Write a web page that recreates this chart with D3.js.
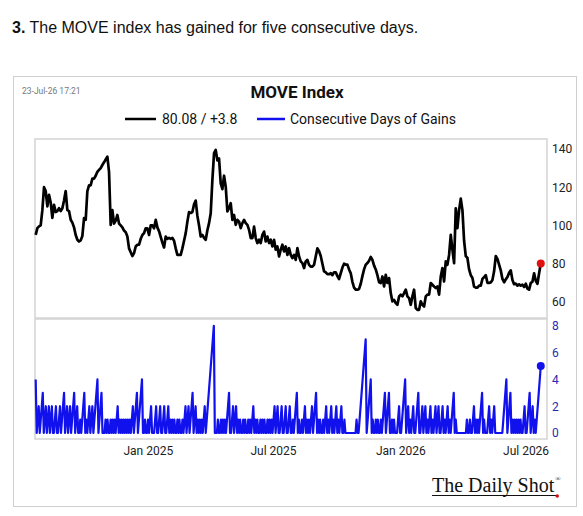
<!DOCTYPE html>
<html>
<head>
  <title>MOVE Index</title>
  <script src="https://d3js.org/d3.v7.min.js"></script>
  <style>
    body { margin: 0; background: #fff; }
    svg { display: block; }
  </style>
</head>
<body>
  <script>
    // MOVE index, evenly spaced from start to end date
    var moveValues = [
      95.1, 98.6, 99.5, 100, 108, 120, 118, 110, 116, 112,
      104, 110.8, 107, 107.5, 109, 107.5, 109, 113, 118, 108,
      107.5, 103, 101.5, 99, 95, 92.5, 91.6, 92.2, 94.5, 103.8,
      102.9, 118, 121, 121, 124.5, 124.5, 126, 128, 129, 130,
      131.6, 133, 134.5, 136, 128, 100.3, 108, 101, 102.5, 105.5,
      101, 100, 99, 97.3, 96.5, 94.2, 88, 86, 84, 85.5,
      89, 89.9, 89.9, 93, 95, 96, 98.5, 98.5, 95, 100,
      100, 98.5, 102.9, 99, 97, 94, 91, 88.5, 94.2, 93,
      93.5, 93, 93.5, 92, 88, 84.6, 84.6, 84.6, 88, 92,
      96, 102, 107, 106.5, 107, 111, 113, 105, 100, 94.2,
      95, 93.5, 92.5, 97.5,
      101.2, 106.4, 123.8, 137.8, 139.5, 134, 135, 122, 119, 126,
      120.3, 107.3, 109, 111.6, 102.9, 105.5, 100.3, 102.9, 102, 98.6,
      101.2, 102.9, 101.2, 100.3, 97.7, 93.4, 93.4, 99.4, 93.4, 90.8,
      92.5, 90.8, 95.1, 96.8, 91.6, 94.2, 90.8, 92.5, 89, 92.5,
      87.3, 89, 83.8, 87.3, 89.9, 86.4, 89, 84.6, 88.1, 84.6,
      82.9, 84.6, 82, 88.1, 83.8, 81.2, 80.3, 77.7, 81.2, 82,
      79.4, 78.5, 78.5, 79.4, 83.8, 88, 86.5, 84, 80, 76,
      75.5, 74.5, 74.5, 75, 74, 75.5, 75.5, 73.5, 72, 75,
      78, 80, 79.5, 79.5, 77, 75, 70.5, 67.5, 66.4, 66.4,
      66.8, 69.5, 73.5, 77, 79.5, 80.3, 81.5, 83.5, 82, 79,
      77, 74, 70.3,
      69.9, 73.3, 68.1, 74.2, 69.9, 72.5, 64.6, 60.3, 61.1, 59.4,
      58.5, 62.9, 63.8, 62.9, 64.6, 66.4, 62.9, 62, 58.5, 62.9,
      66.4, 56.8, 55.9, 55.9, 60.3, 58.5, 57.6, 62.9, 63.8, 63.8,
      69.9, 69, 68.1, 67.3, 68.1, 63.8, 73.3, 77.7, 70.7, 81.2,
      79.4, 84.6, 95.1, 87.3, 80.3, 109, 98.6, 108, 114, 108,
      92, 84, 83, 77, 74, 72.5, 68, 67.5, 67.5, 68.5,
      68.5, 72, 73, 74, 70, 70, 70.2, 71.5, 76, 84,
      82.5, 79.5, 76.5, 72, 70.3, 71.8, 73, 75.3, 76.5, 71.5,
      69.3, 69.6, 68.5, 69.2, 68.5, 69, 67.8, 69.5, 67, 66.4,
      70, 70.5, 75, 71, 69.5, 75, 80.08
    ];

    // consecutive days of gains
    var gainDays = [
      4,0, 1,2,0, 1,2,3,0, 1,2,0, 1,2,0, 1,2,0, 0,1,2,0, 0,1,2,0, 1,2,3,0,
      1,2,0, 1,2,0, 1,2,3,0, 1,2,0, 0,1,0, 1,2,3,0, 1,0, 1,2,0, 1,2,0,
      1,2,3,4,0, 1,2,3,0, 0,0,1,0,1,0,0,1,0,1,0,1,0, 1,2,0,
      1,0,1,0,1,0,1,0,1,0,1,0, 1,2,0, 1,2,3,0, 1,2,3,4,0, 0,1,0,0,
      1,0,1,2,0, 0,0,1,2,0, 0,1,2,0, 0,1,2,0, 0,1,2,0,
      1,0,1,0,1,0,0,1,0,1,0,0,1,0, 1,2,0, 1,2,0, 1,2,3,0, 1,2,0,
      1,0,1,0,1,0, 1,2,0,
      1,2,3,4,5,6,7,8,0, 0,0,1,0,0,1,0,1,0,1,0, 1,2,3,0, 0,1,2,0, 1,2,0,
      1,0,1,0,0,1,0,1,0,0,1,0,1,0, 1,2,0,
      1,0,1,0,0,1,0,1,0,1,0,0,1,0,1,0,1,0, 1,2,0, 1,2,0, 0,1,2,0,
      0,1,2,0, 0,1,2,0, 0,1,0,1,2,3,0, 1,0,0,1,0, 1,2,0, 1,0,1,0,1,2,0,
      1,2,3,0, 1,0,1,0,0,1,0, 1,2,0, 1,0,1,2,0, 1,0,1,2,0, 1,0,1,2,0,
      0,1,0, 0,0,0,0,0,0,0,0, 0,0,1,0,0, 1,2,3,4,5,6,7,0, 1,2,3,4,0,
      1,0,0,1,0,1,0,0,1,0, 1,2,3,0, 1,2,3,0, 0,1,0,1,0, 0,0,1,2,0,0,
      1,2,3,4,0, 1,2,0, 1,0,1,2,0, 0,1,2,3,0, 0,1,2,0, 1,2,0,
      1,0,1,2,0, 1,0,1,2,0, 1,2,0, 0,1,2,0, 1,0,1,2,0, 1,0,1,2,3,0,
      1,0,0,0,0,0,0,0,0,0, 0,1,0,0,1,0,0, 1,2,0, 1,0,1,0,1,2,3,0,
      1,0,0,0,1,2,0, 1,0,1,2,0, 0,0,0,0,0,0,0, 1,2,3,4,0, 1,2,3,0,
      1,0,1,0,1,0,1,0,1,0,0, 1,2,0, 0,1,2,3,0, 1,2,0,1, 0,1,2,3,4,5
    ];

    var startDate = new Date(2024, 6, 23);
    var endDate = new Date(2026, 6, 23);
    var tickDates = [new Date(2025, 0, 1), new Date(2025, 6, 1), new Date(2026, 0, 1), new Date(2026, 6, 1)];
    var tickLabels = ['Jan 2025', 'Jul 2025', 'Jan 2026', 'Jul 2026'];
    var moveTicks = [60, 80, 100, 120, 140];
    var gainTicks = [0, 2, 4, 6, 8];
    var legendLabels = ['80.08 / +3.8', 'Consecutive Days of Gains'];

    var width = 583,
        height = 516;

    var svg = d3.select('body')
      .append('svg')
      .attr('width', width)
      .attr('height', height);

    // spread points evenly across the date range
    function spread(values) {
      var span = endDate - startDate;
      return values.map(function(v, i) {
        return { date: new Date(+startDate + span * i / (values.length - 1)), value: v };
      });
    }
    var moveData = spread(moveValues);
    var gainData = spread(gainDays);

    var left = 35, right = 547;
    var x = d3.scaleTime()
      .domain([new Date(2024, 6, 22), new Date(2026, 7, 1)])
      .range([left, right]);

    var yTop = d3.scaleLinear().domain([51.6, 145.2]).range([318, 139]);
    var yBot = d3.scaleLinear().domain([-0.45, 8.52]).range([439, 319]);

    // headline
    var head = svg.append('text')
      .attr('x', 12).attr('y', 33)
      .style('font-family', 'Liberation Sans, Arial, sans-serif')
      .style('font-size', '16px')
      .attr('fill', '#111');
    head.append('tspan').style('font-weight', 'bold').text('3.');
    head.append('tspan').text(' The MOVE index has gained for five consecutive days.');

    // chart frame
    svg.append('rect')
      .attr('x', 13.5).attr('y', 76.5)
      .attr('width', 563).attr('height', 430)
      .attr('fill', 'none').attr('stroke', '#cfcfcf');

    svg.append('text')
      .attr('x', 22).attr('y', 94)
      .style('font-family', 'Roboto, sans-serif')
      .style('font-size', '8.5px')
      .attr('fill', '#777')
      .text('23-Jul-26 17:21');

    svg.append('text')
      .attr('x', 297).attr('y', 98)
      .attr('text-anchor', 'middle')
      .style('font-family', 'Roboto, sans-serif')
      .style('font-size', '17px')
      .style('font-weight', 'bold')
      .attr('fill', '#111')
      .text('MOVE Index');

    // legend
    var legend = svg.append('g').style('font-family', 'Roboto, sans-serif').style('font-size', '14px');
    legend.append('line').attr('x1', 125).attr('x2', 156).attr('y1', 119).attr('y2', 119)
      .attr('stroke', '#000').attr('stroke-width', 2.5);
    legend.append('text').attr('x', 162).attr('y', 124).attr('fill', '#111').text(legendLabels[0]);
    legend.append('line').attr('x1', 257).attr('x2', 285).attr('y1', 119).attr('y2', 119)
      .attr('stroke', '#1111ee').attr('stroke-width', 2.5);
    legend.append('text').attr('x', 290).attr('y', 124).attr('fill', '#111').text(legendLabels[1]);

    // panel boxes
    svg.append('rect').attr('x', left).attr('y', 139).attr('width', right - left).attr('height', 179)
      .attr('fill', 'none').attr('stroke', '#d4d4d4').attr('stroke-width', 1.5);
    svg.append('rect').attr('x', left).attr('y', 319).attr('width', right - left).attr('height', 120)
      .attr('fill', 'none').attr('stroke', '#d4d4d4').attr('stroke-width', 1.5);

    // right axes
    var axTop = svg.append('g')
      .attr('transform', 'translate(' + (right + 2) + ',0)')
      .call(d3.axisRight(yTop).tickValues(moveTicks).tickSize(0).tickPadding(3));
    axTop.select('.domain').remove();
    axTop.selectAll('text').style('font-family', 'Roboto, sans-serif').style('font-size', '12px').attr('fill', '#222');

    var axBot = svg.append('g')
      .attr('transform', 'translate(' + (right + 2) + ',0)')
      .call(d3.axisRight(yBot).tickValues(gainTicks).tickSize(0).tickPadding(3));
    axBot.select('.domain').remove();
    axBot.selectAll('text').style('font-family', 'Roboto, sans-serif').style('font-size', '12px').attr('fill', '#2a2ab0');

    // x axis
    var axX = svg.append('g')
      .attr('transform', 'translate(0,439)')
      .call(d3.axisBottom(x).tickValues(tickDates).tickSize(0).tickPadding(7)
        .tickFormat(function(d, i) { return tickLabels[i]; }));
    axX.select('.domain').remove();
    axX.selectAll('text').style('font-family', 'Roboto, sans-serif').style('font-size', '12px').attr('fill', '#222');

    // lines
    var moveLine = d3.line().x(function(d) { return x(d.date); }).y(function(d) { return yTop(d.value); });
    var gainLine = d3.line().x(function(d) { return x(d.date); }).y(function(d) { return yBot(d.value); });

    svg.append('path').datum(moveData)
      .attr('d', moveLine)
      .attr('fill', 'none').attr('stroke', '#000').attr('stroke-width', 2.7).attr('stroke-linejoin', 'round');

    svg.append('path').datum(gainData)
      .attr('d', gainLine)
      .attr('fill', 'none').attr('stroke', '#1111ee').attr('stroke-width', 2.2).attr('stroke-linejoin', 'round');

    var lastMove = moveData[moveData.length - 1];
    svg.append('circle').attr('cx', x(lastMove.date)).attr('cy', yTop(lastMove.value)).attr('r', 4).attr('fill', '#e01010');
    var lastGain = gainData[gainData.length - 1];
    svg.append('circle').attr('cx', x(lastGain.date)).attr('cy', yBot(lastGain.value)).attr('r', 4).attr('fill', '#1111ee');

    // logo
    var logo = svg.append('g');
    var logoText = logo.append('text')
      .attr('x', 432).attr('y', 492)
      .style('font-family', 'Liberation Serif, DejaVu Serif, serif')
      .style('font-size', '20px')
      .attr('fill', '#111')
      .text('The Daily Shot');
    var logoEnd = 432 + logoText.node().getComputedTextLength();
    logo.append('text')
      .attr('x', logoEnd + 1).attr('y', 481)
      .style('font-family', 'Liberation Serif, serif')
      .style('font-size', '7px')
      .attr('fill', '#111')
      .text('®');
    logo.append('line').attr('x1', 432).attr('x2', logoEnd + 2).attr('y1', 495.5).attr('y2', 495.5)
      .attr('stroke', '#111').attr('stroke-width', 1);
    logo.append('circle').attr('cx', logoEnd + 3).attr('cy', 496).attr('r', 1.8).attr('fill', '#d01010');
  </script>
</body>
</html>
